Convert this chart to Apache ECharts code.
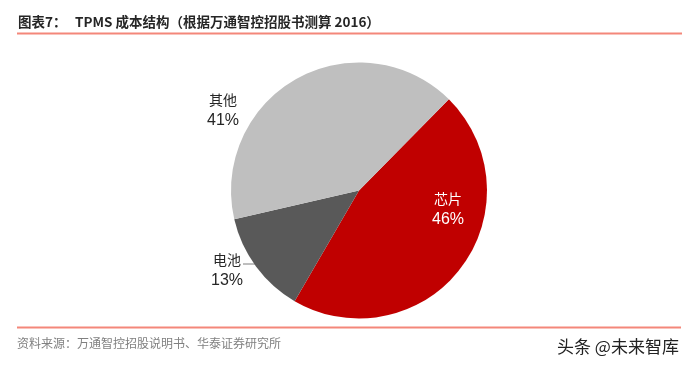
<!DOCTYPE html>
<html>
<head>
<meta charset="utf-8">
<script src="https://cdn.jsdelivr.net/npm/echarts@6/dist/echarts.min.js"></script>
<style>
html,body{margin:0;padding:0;background:#fff;}
#chart{width:694px;height:367px;}
</style>
</head>
<body>
<div id="chart"></div>
<script>
// Data
const categories = ['芯片', '电池', '其他'];
const shares = [46, 13, 41];
const sliceColors = ['#C00000', '#595959', '#BFBFBF'];

const titlePrefix = '图表7：';
const titleText = 'TPMS 成本结构（根据万通智控招股书测算 2016）';
const sourceText = '资料来源：万通智控招股说明书、华泰证券研究所';
const watermark = '头条 @未来智库';

const labelPos = [
  { x: 448, y: 209, color: '#ffffff' },
  { x: 227, y: 270, color: '#262626' },
  { x: 223, y: 110, color: '#262626' }
];

const chart = echarts.init(document.getElementById('chart'), null, { renderer: 'canvas' });

const option = {
  animation: false,
  backgroundColor: '#ffffff',
  graphic: [
    { type: 'text', left: 18, top: 15, style: { text: titlePrefix, font: 'bold 13.5px "Noto Sans CJK SC"', fill: '#262626' } },
    { type: 'text', left: 75, top: 15, style: { text: titleText, font: 'bold 13.5px "Noto Sans CJK SC"', fill: '#262626', letterSpacing: 0.3 } },
    { type: 'line', shape: { x1: 17, y1: 33.5, x2: 682, y2: 33.5 }, style: { stroke: '#F4877A', lineWidth: 2 } },
    { type: 'line', shape: { x1: 17, y1: 327.5, x2: 681, y2: 327.5 }, style: { stroke: '#F4877A', lineWidth: 2 } },
    { type: 'text', left: 17, top: 337, style: { text: sourceText, font: '12px "Noto Sans CJK SC"', fill: '#808080' } },
    { type: 'text', left: 557, top: 338, style: { text: watermark, font: '17px "Noto Sans CJK SC"', fill: '#222222' } }
  ],
  series: [{
    type: 'pie',
    center: [359, 190.5],
    radius: [0, 128],
    startAngle: 45.4,
    clockwise: true,
    silent: true,
    itemStyle: { borderWidth: 0 },
    data: categories.map((name, i) => ({
      name: name,
      value: shares[i],
      itemStyle: { color: sliceColors[i] },
      label: { color: labelPos[i].color },
      labelLine: { show: i === 1, lineStyle: { color: '#7f7f7f', width: 1 } }
    })),
    label: {
      show: true,
      position: 'outside',
      formatter: '{n|{b}}\n{v|{c}%}',
      rich: {
        n: { fontFamily: 'Noto Sans CJK SC', fontSize: 14, lineHeight: 21 },
        v: { fontFamily: 'Liberation Sans', fontSize: 16, lineHeight: 21 }
      }
    },
    labelLayout: function (params) {
      const p = labelPos[params.dataIndex];
      const res = { x: p.x, y: p.y, align: 'center', verticalAlign: 'middle' };
      if (params.dataIndex === 1) {
        res.labelLinePoints = [[256, 264], [250, 264], [243, 264]];
      }
      return res;
    }
  }]
};
chart.setOption(option);
</script>
</body>
</html>
